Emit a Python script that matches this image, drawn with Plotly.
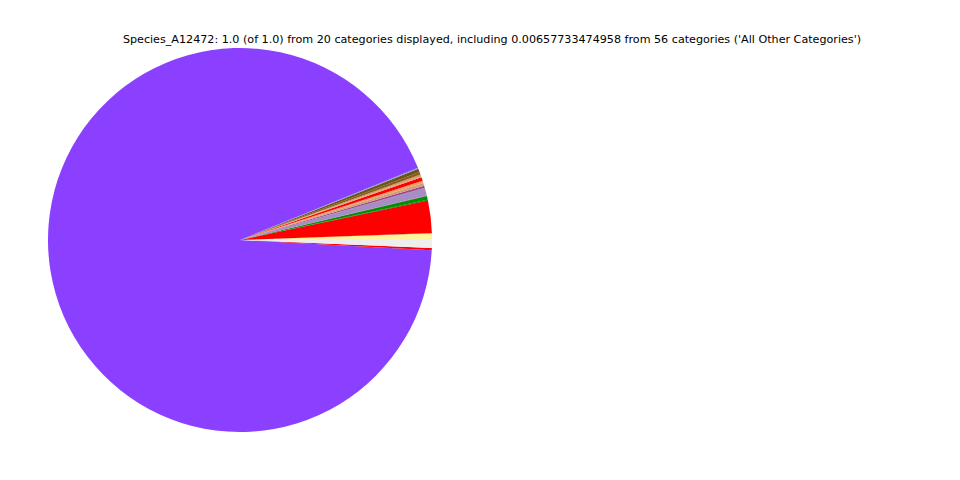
import plotly.graph_objects as go

labels = ["Cat_01", "Cat_02", "Cat_03", "Cat_04", "Cat_05", "Cat_06", "Cat_07",
          "Cat_08", "Cat_09", "Cat_10", "Cat_11", "Cat_12", "Cat_13", "Cat_14",
          "Cat_15", "Cat_16", "Cat_17", "Cat_18", "Cat_19",
          "All Other Categories"]
values = [0.0055, 0.0004, 0.0270, 0.0008, 0.0030, 0.0005, 0.0062, 0.0005,
          0.0017, 0.0024, 0.0020, 0.0030, 0.0008, 0.0017, 0.0020, 0.0030,
          0.0008, 0.9300, 0.0020, 0.00657733474958]
colors = ["#FFF59A", "#8B1A1A", "#FF0000", "#006400", "#009000", "#606060",
          "#A88CC4", "#707070", "#A040A0", "#D2A06E", "#E8A070", "#FF0000",
          "#F0907A", "#C8A064", "#8B5A14", "#6B5418", "#7F9FC8", "#8B3FFF",
          "#FF0000", "#EEEEEE"]

title_text = ("Species_A12472: 1.0 (of 1.0) from 20 categories displayed, including "
              "0.00657733474958 from 56 categories ('All Other Categories')")

# Plotly places the first slice clockwise of the start line in counterclockwise
# mode; shift the start so the first slice begins at 3 o'clock going CCW.
first_frac = values[0] / sum(values)
rotation = 90 - 360 * first_frac

fig = go.Figure(go.Pie(
    labels=labels,
    values=values,
    sort=False,
    direction="counterclockwise",
    rotation=rotation,
    marker=dict(colors=colors, line=dict(width=0)),
    textinfo="none",
    hoverinfo="label+value",
    showlegend=False,
    domain=dict(x=[0.05, 0.45], y=[0.1, 0.9]),
))

fig.update_layout(
    width=960, height=480,
    margin=dict(l=0, r=0, t=0, b=0),
    paper_bgcolor="white",
    plot_bgcolor="white",
    title=dict(text=title_text, x=0.5125, xanchor="center", y=1 - 39 / 480,
               yanchor="middle",
               font=dict(family="DejaVu Sans", size=11.15, color="black")),
)

fig.write_html("out.html",
               config={"displayModeBar": False},
               post_script="document.body.style.margin='0';document.body.style.overflow='hidden';")
